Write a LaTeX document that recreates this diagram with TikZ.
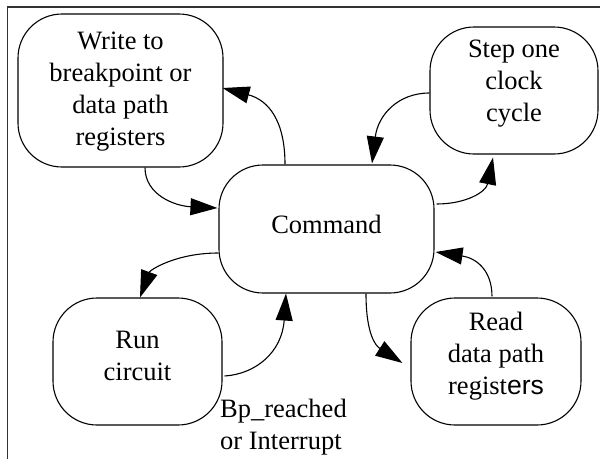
\documentclass[tikz,border=0pt]{standalone}
\usepackage{fontspec}
\setmainfont{Liberation Serif}
\newfontfamily\tms{Liberation Serif}
\newfontfamily\helv{Liberation Sans}
\usetikzlibrary{arrows.meta,calc}
\begin{document}
\begin{tikzpicture}[x=1pt,y=-1pt,
  state/.style={draw, line width=1.1pt, rounded corners=44pt, inner sep=0pt},
  txt/.style={font=\tms\fontsize{26.5}{32}\selectfont, align=center},
  flow/.style={line width=1.1pt, -{Triangle[length=27pt,width=17pt]}}
]
\useasboundingbox (0,0) rectangle (600,459);

% frame
\draw[line width=1.4pt, black!80] (600,7) -- (7.5,7) -- (7.5,459);

% states
\node[state, minimum width=205pt, minimum height=153pt,
  label={[txt, yshift=-1pt]center:{Write to\\breakpoint or\\data path\\registers}}]
  (write) at (120.5,90.5) {};
\node[state, minimum width=168pt, minimum height=127pt,
  label={[txt, yshift=7pt]center:{Step one\\clock\\cycle}}]
  (step) at (514,90.5) {};
\node[state, minimum width=215pt, minimum height=128pt,
  label={[txt, yshift=5pt]center:{Command}}]
  (cmd) at (326.5,229) {};
\node[state, minimum width=169pt, minimum height=127pt,
  label={[txt, yshift=6pt]center:{Run\\circuit}}]
  (run) at (137.5,361.5) {};
\node[state, minimum width=170pt, minimum height=127pt,
  label={[txt, yshift=5pt]center:{Read\\data path\\regist{\helv ers}}}]
  (read) at (496,361.5) {};

% condition text
\node[txt, align=left, anchor=west, inner sep=0pt] (cond) at (220,427)
  {Bp\_reached\\or Interrupt};

% transitions
\draw[flow] ($(cmd.north)+(-41.5,0)$) .. controls (285,120) and (268,100) .. ($(write.east)+(-1,-2.5)$);
\draw[flow] ($(write.south)+(24.5,0)$) .. controls (145,195) and (175,206) .. ($(cmd.west)+(-1,-21)$);
\draw[flow] ($(step.west)+(0,2.5)$) .. controls (398,93) and (378,115) .. ($(cmd.north)+(45.5,-1)$);
\draw[flow] ($(cmd.east)+(2,-25)$) .. controls (466,204) and (486,192) .. ($(step.south)+(-21,3)$);
\draw[flow] ($(cmd.west)+(0,24)$) .. controls (176,253) and (150,270) .. ($(run.north)+(2.5,0)$);
\draw[flow] ($(run.east)+(2,14.5)$) .. controls (256,374) and (282,352) .. ($(cmd.south)+(-40.5,0)$);
\draw[flow] ($(cmd.south)+(39.5,0)$) .. controls (366,335) and (376,346) .. ($(read.west)+(-8,1.5)$);
\draw[flow] ($(read.north)+(-4,-1)$) .. controls (492,270) and (476,258) .. ($(cmd.east)+(1,23)$);
\end{tikzpicture}
\end{document}
